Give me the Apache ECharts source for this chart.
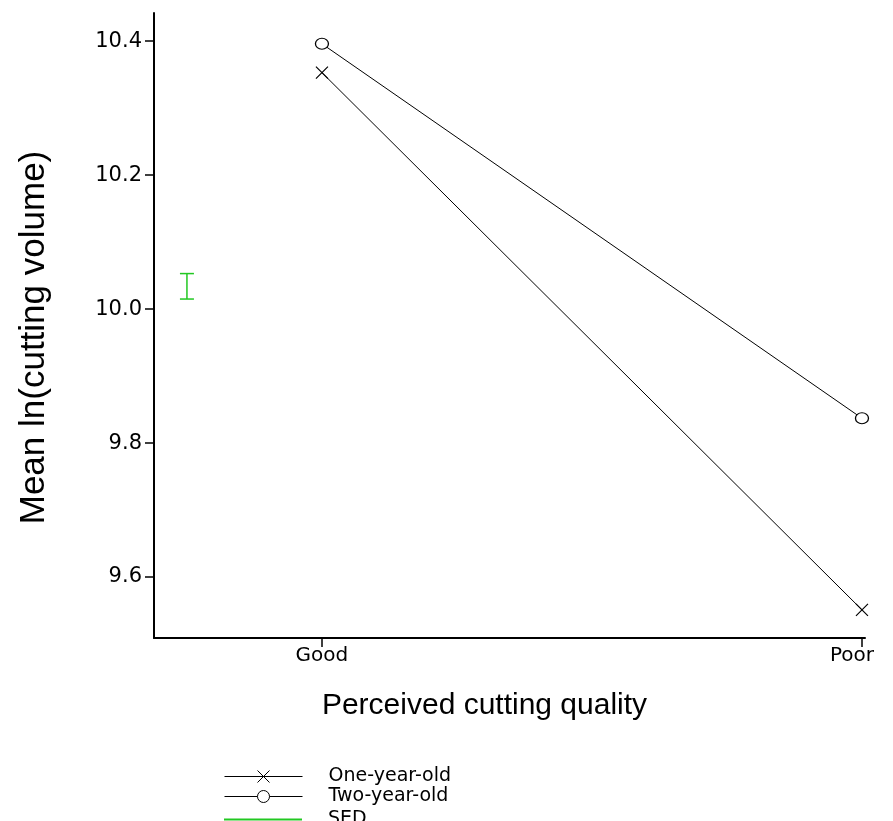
<!DOCTYPE html>
<html>
<head>
<meta charset="utf-8">
<script src="https://cdn.jsdelivr.net/npm/echarts@6/dist/echarts.min.js"></script>
<style>
html,body{margin:0;padding:0;background:#fff;}
#chart{width:893px;height:821px;}
</style>
</head>
<body>
<div id="chart"></div>
<script>
const categories = ['Good', 'Poor'];
const oneYearOld = [10.353, 9.551];
const twoYearOld = [10.396, 9.837];
const yTicks = [9.6, 9.8, 10.0, 10.2, 10.4];
const sedCentre = 10.034;
const sedValue = 0.038;
const sedPosition = -0.25;
const legendNames = ['One-year-old', 'Two-year-old', 'SED'];

const sedColor = '#22c822';
const chart = echarts.init(document.getElementById('chart'), null, {renderer: 'canvas'});

const xSymbol = 'path://M0,0L10,10M10,0L0,10';

const legendBase = {
  orient: 'vertical',
  left: 224,
  itemWidth: 78,
  itemHeight: 15,
  itemGap: 0,
  padding: 0,
  lineStyle: {width: 1},
  itemStyle: {borderWidth: 1},
  textStyle: {fontFamily: 'DejaVu Sans', fontSize: 19, color: '#000', lineHeight: 15, padding: [0, 0, 0, 21]}
};
const legendTops = [767, 787, 810];

const option = {
  animation: false,
  backgroundColor: '#fff',
  grid: {left: 154, top: 13, right: 28, bottom: 183, containLabel: false},
  xAxis: {
    type: 'value',
    min: -0.311,
    max: 1.0056,
    name: 'Perceived cutting quality',
    nameLocation: 'middle',
    nameGap: 53,
    nameTextStyle: {fontFamily: 'Liberation Sans', fontSize: 30, color: '#000', padding: [0, 50, 0, 0]},
    axisLine: {show: true, onZero: false, lineStyle: {color: '#000', width: 2}},
    axisTick: {show: true, length: 9, lineStyle: {color: '#000', width: 1.5},
      customValues: categories.map((c, i) => i)},
    axisLabel: {show: true, customValues: categories.map((c, i) => i),
      formatter: v => {
        const i = Math.round(v);
        return i === categories.length - 1 ? '{last|' + categories[i] + '}' : categories[i];
      },
      rich: {last: {fontFamily: 'DejaVu Sans', fontSize: 20, color: '#000', padding: [0, 20, 0, 0]}},
      fontFamily: 'DejaVu Sans', fontSize: 20, color: '#000', margin: 8},
    splitLine: {show: false}
  },
  yAxis: {
    type: 'value',
    min: 9.509,
    max: 10.442,
    name: 'Mean ln(cutting volume)',
    nameLocation: 'middle',
    nameRotate: 90,
    nameGap: 102,
    nameTextStyle: {fontFamily: 'Liberation Sans', fontSize: 35, color: '#000', padding: [0, 24, 0, 0]},
    axisLine: {show: true, onZero: false, lineStyle: {color: '#000', width: 2}},
    axisTick: {show: true, length: 9, lineStyle: {color: '#000', width: 1.5}, customValues: yTicks},
    axisLabel: {show: true, customValues: yTicks, formatter: v => v.toFixed(1),
      fontFamily: 'DejaVu Sans', fontSize: 21, color: '#000', margin: 12},
    splitLine: {show: false}
  },
  legend: legendNames.map((n, i) => Object.assign({}, legendBase, {
    top: legendTops[i],
    data: [n === 'SED'
      ? {name: n, icon: 'path://M0,0H100V2.6H0Z',
         itemStyle: {color: sedColor, borderWidth: 0, borderColor: sedColor},
         lineStyle: {color: sedColor}}
      : {name: n}]
  })),
  series: [
    {
      name: legendNames[0],
      type: 'line',
      data: categories.map((c, i) => [i, oneYearOld[i]]),
      symbol: xSymbol,
      symbolSize: 12,
      showSymbol: true,
      lineStyle: {color: '#000', width: 1},
      itemStyle: {color: 'none', borderColor: '#000', borderWidth: 1.2}
    },
    {
      name: legendNames[1],
      type: 'line',
      data: categories.map((c, i) => [i, twoYearOld[i]]),
      symbol: 'circle',
      symbolSize: [13, 11],
      lineStyle: {color: '#000', width: 1},
      itemStyle: {color: '#fff', borderColor: '#000', borderWidth: 1.2}
    },
    {
      name: legendNames[2],
      type: 'custom',
      data: [[sedPosition, sedCentre - sedValue / 2, sedCentre + sedValue / 2]],
      itemStyle: {color: sedColor},
      renderItem: function (params, api) {
        const x = api.value(0);
        const lo = api.coord([x, api.value(1)]);
        const hi = api.coord([x, api.value(2)]);
        const w = 7;
        const style = {stroke: sedColor, lineWidth: 1.5};
        return {
          type: 'group',
          children: [
            {type: 'line', shape: {x1: lo[0], y1: lo[1], x2: hi[0], y2: hi[1]}, style: style},
            {type: 'line', shape: {x1: lo[0] - w, y1: lo[1], x2: lo[0] + w, y2: lo[1]}, style: style},
            {type: 'line', shape: {x1: hi[0] - w, y1: hi[1], x2: hi[0] + w, y2: hi[1]}, style: style}
          ]
        };
      }
    }
  ]
};
chart.setOption(option);
</script>
</body>
</html>
